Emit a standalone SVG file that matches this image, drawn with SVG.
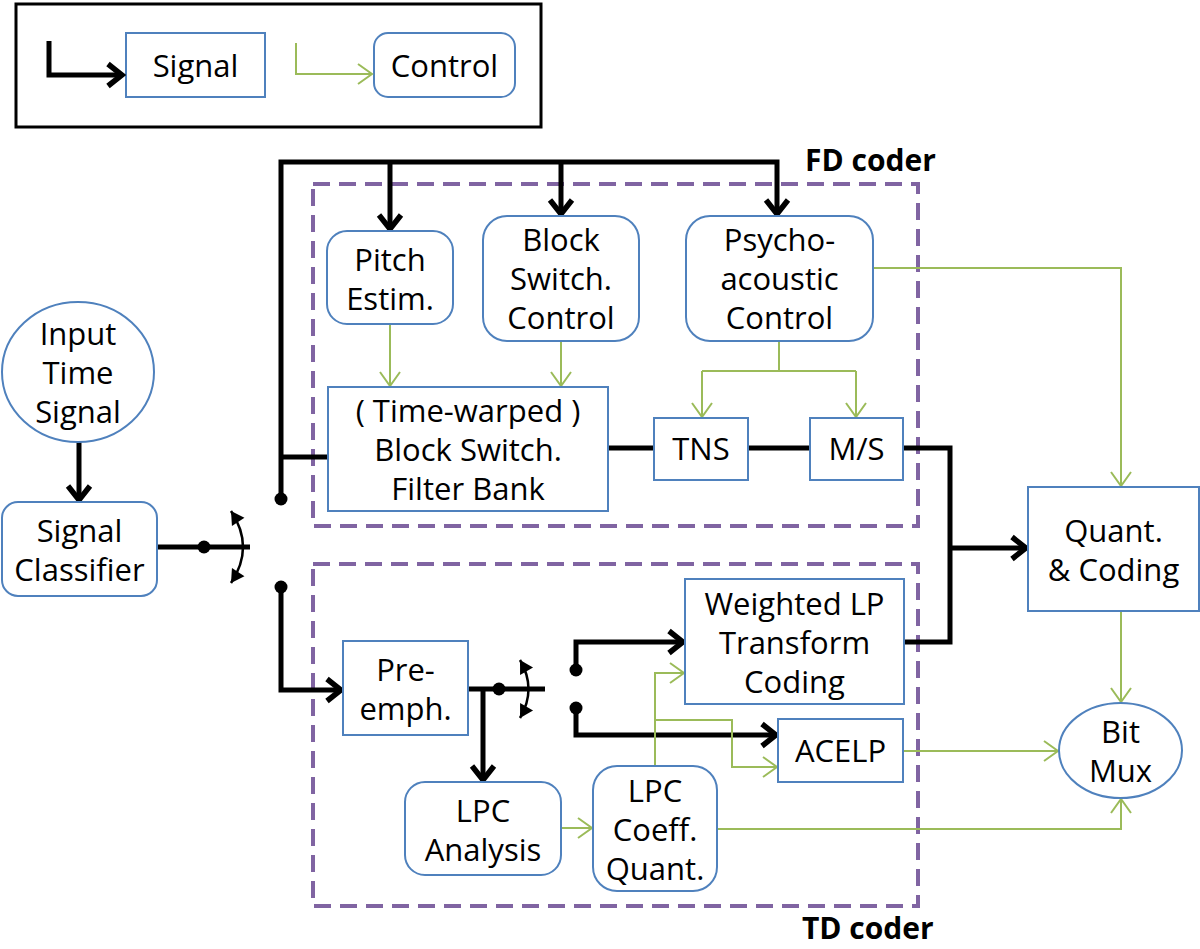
<svg xmlns="http://www.w3.org/2000/svg" width="1200" height="949" viewBox="0 0 1200 949">
<defs>
<style>
.box{fill:#fff;stroke:#4F81BD;stroke-width:2}
.t{font-family:"Open Sans","Noto Sans","DejaVu Sans",sans-serif;font-size:31px;fill:#000;text-anchor:middle}
.lbl{font-family:"Open Sans","Noto Sans","DejaVu Sans",sans-serif;font-size:30px;font-weight:bold;fill:#000}
.sig{fill:none;stroke:#000;stroke-width:5;stroke-linejoin:miter}
.ctl{fill:none;stroke:#9BBB59;stroke-width:2}
.dash{fill:none;stroke:#8064A2;stroke-width:4;stroke-dasharray:17 9}
.sw{fill:none;stroke:#000;stroke-width:2.5}
</style>
<marker id="aS" markerUnits="userSpaceOnUse" viewBox="-20 -16 24 32" refX="0" refY="0" markerWidth="24" markerHeight="32" orient="auto">
<path d="M-14,-11 L0,0 L-14,11" fill="none" stroke="#000" stroke-width="5.5"/>
</marker>
<marker id="aC" markerUnits="userSpaceOnUse" viewBox="-16 -14 20 28" refX="0" refY="0" markerWidth="20" markerHeight="28" orient="auto">
<path d="M-14,-10 L0,0 L-14,10" fill="none" stroke="#9BBB59" stroke-width="2"/>
</marker>
<marker id="aT" markerUnits="userSpaceOnUse" viewBox="-16 -9 18 18" refX="0" refY="0" markerWidth="18" markerHeight="18" orient="auto-start-reverse">
<path d="M-13,-7.5 L0,0 L-13,7.5 Z" fill="#000"/>
</marker>
</defs>
<rect width="1200" height="949" fill="#fff"/>

<g id="legend">
<rect x="16" y="4" width="525" height="123" fill="none" stroke="#000" stroke-width="3"/>
<rect class="box" x="126" y="33" width="139" height="64"/>
<text class="t" x="195.5" y="77">Signal</text>
<rect class="box" x="374" y="33" width="141" height="64" rx="14"/>
<text class="t" x="444.5" y="77">Control</text>
<path class="sig" d="M49,41 L49,75 L122,75" marker-end="url(#aS)"/>
<path class="ctl" d="M296,43 L296,74 L372,74" marker-end="url(#aC)"/>
</g>

<g id="fd-coder">
<rect class="dash" x="313" y="184" width="605" height="342"/>
<text class="lbl" x="805" y="171">FD coder</text>
</g>
<g id="td-coder">
<rect class="dash" x="313" y="564" width="605" height="342"/>
<text class="lbl" x="802" y="939">TD coder</text>
</g>

<g id="connectors">
<!-- signal -->
<path class="sig" d="M79,442 L79,500" marker-end="url(#aS)"/>
<path class="sig" d="M157,547 L250,547"/>
<path class="sig" d="M281,499 L281,162 L777,162 L777,214" marker-end="url(#aS)"/>
<path class="sig" d="M390,162 L390,229" marker-end="url(#aS)"/>
<path class="sig" d="M561,162 L561,214" marker-end="url(#aS)"/>
<path class="sig" d="M281,457 L328,457"/>
<path class="sig" d="M608,448 L654,448"/>
<path class="sig" d="M748,448 L810,448"/>
<path class="sig" d="M903,448 L950,448 L950,642 L904,642"/>
<path class="sig" d="M950,548 L1026,548" marker-end="url(#aS)"/>
<path class="sig" d="M281,587 L281,690 L341,690" marker-end="url(#aS)"/>
<path class="sig" d="M468,689 L545,689"/>
<path class="sig" d="M483,689 L483,780" marker-end="url(#aS)"/>
<path class="sig" d="M576,670 L576,642 L683,642" marker-end="url(#aS)"/>
<path class="sig" d="M576,708 L576,735 L776,735" marker-end="url(#aS)"/>
<!-- switches -->
<path class="sw" d="M231,511 Q255,547 231,583" marker-start="url(#aT)" marker-end="url(#aT)"/>
<path class="sw" d="M520,660 Q537,689 520,718" marker-start="url(#aT)" marker-end="url(#aT)"/>
<circle cx="204" cy="547" r="6.5"/>
<circle cx="281" cy="499" r="6.5"/>
<circle cx="281" cy="587" r="6.5"/>
<circle cx="499" cy="689" r="6.5"/>
<circle cx="576" cy="670" r="6.5"/>
<circle cx="576" cy="708" r="6.5"/>
<!-- control -->
<path class="ctl" d="M390,324 L390,386" marker-end="url(#aC)"/>
<path class="ctl" d="M561,341 L561,386" marker-end="url(#aC)"/>
<path class="ctl" d="M779,341 L779,371"/>
<path class="ctl" d="M702,371 L856,371"/>
<path class="ctl" d="M702,371 L702,417" marker-end="url(#aC)"/>
<path class="ctl" d="M856,371 L856,417" marker-end="url(#aC)"/>
<path class="ctl" d="M873,268 L1121,268 L1121,486" marker-end="url(#aC)"/>
<path class="ctl" d="M1121,611 L1121,702" marker-end="url(#aC)"/>
<path class="ctl" d="M903,751 L1058,751" marker-end="url(#aC)"/>
<path class="ctl" d="M561,828 L592,828" marker-end="url(#aC)"/>
<path class="ctl" d="M717,829 L1121,829 L1121,799" marker-end="url(#aC)"/>
<path class="ctl" d="M655,766 L655,673 L684,673" marker-end="url(#aC)"/>
<path class="ctl" d="M655,720 L732,720 L732,767 L777,767" marker-end="url(#aC)"/>
</g>

<g id="input-time-signal">
<ellipse class="box" cx="78" cy="372" rx="76" ry="70"/>
<text class="t" x="78" y="345">Input</text>
<text class="t" x="78" y="384">Time</text>
<text class="t" x="78" y="423">Signal</text>
</g>
<g id="signal-classifier">
<rect class="box" x="2" y="502" width="155" height="94" rx="16"/>
<text class="t" x="79.5" y="542">Signal</text>
<text class="t" x="79.5" y="581">Classifier</text>
</g>
<g id="pitch-estim">
<rect class="box" x="327" y="231" width="126" height="93" rx="20"/>
<text class="t" x="390" y="271">Pitch</text>
<text class="t" x="390" y="310">Estim.</text>
</g>
<g id="block-switch-control">
<rect class="box" x="483" y="216" width="156" height="125" rx="24"/>
<text class="t" x="561" y="251">Block</text>
<text class="t" x="561" y="290">Switch.</text>
<text class="t" x="561" y="329">Control</text>
</g>
<g id="psychoacoustic-control">
<rect class="box" x="686" y="216" width="187" height="125" rx="24"/>
<text class="t" x="779.5" y="251">Psycho-</text>
<text class="t" x="779.5" y="290">acoustic</text>
<text class="t" x="779.5" y="329">Control</text>
</g>
<g id="filter-bank">
<rect class="box" x="328" y="387" width="280" height="124"/>
<text class="t" x="468" y="422">( Time-warped )</text>
<text class="t" x="468" y="461">Block Switch.</text>
<text class="t" x="468" y="500">Filter Bank</text>
</g>
<g id="tns">
<rect class="box" x="654" y="418" width="94" height="62"/>
<text class="t" x="701" y="460">TNS</text>
</g>
<g id="ms">
<rect class="box" x="810" y="418" width="93" height="62"/>
<text class="t" x="856.5" y="460">M/S</text>
</g>
<g id="quant-coding">
<rect class="box" x="1028" y="487" width="171" height="124"/>
<text class="t" x="1113.5" y="542">Quant.</text>
<text class="t" x="1113.5" y="581">&amp; Coding</text>
</g>
<g id="bit-mux">
<ellipse class="box" cx="1120.5" cy="750.5" rx="61.5" ry="47.5"/>
<text class="t" x="1120.5" y="743">Bit</text>
<text class="t" x="1120.5" y="782">Mux</text>
</g>
<g id="weighted-lp">
<rect class="box" x="685" y="579" width="219" height="125"/>
<text class="t" x="794.5" y="615">Weighted LP</text>
<text class="t" x="794.5" y="654">Transform</text>
<text class="t" x="794.5" y="693">Coding</text>
</g>
<g id="acelp">
<rect class="box" x="778" y="719" width="125" height="63"/>
<text class="t" x="840.5" y="762">ACELP</text>
</g>
<g id="pre-emph">
<rect class="box" x="343" y="641" width="125" height="94"/>
<text class="t" x="405.5" y="681">Pre-</text>
<text class="t" x="405.5" y="720">emph.</text>
</g>
<g id="lpc-analysis">
<rect class="box" x="405" y="782" width="156" height="93" rx="20"/>
<text class="t" x="483" y="822">LPC</text>
<text class="t" x="483" y="861">Analysis</text>
</g>
<g id="lpc-coeff-quant">
<rect class="box" x="593" y="766" width="124" height="125" rx="24"/>
<text class="t" x="655" y="802">LPC</text>
<text class="t" x="655" y="841">Coeff.</text>
<text class="t" x="655" y="880">Quant.</text>
</g>
</svg>
